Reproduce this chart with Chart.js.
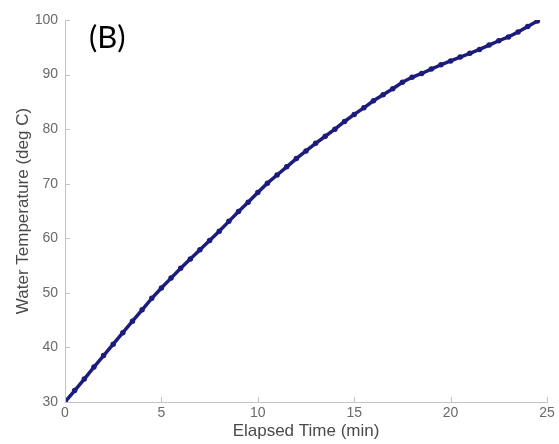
<!DOCTYPE html>
<html>
<head>
<meta charset="utf-8">
<script src="https://cdn.jsdelivr.net/npm/chart.js@4/dist/chart.umd.min.js"></script>
<style>
  body { margin: 0; background: #fff; }
  #wrap { position: relative; width: 559px; height: 444px; }
  #panel { position: absolute; left: 89px; top: 17px; font: 31px Lato, "Open Sans", sans-serif; color: #000; }
</style>
</head>
<body>
<div id="wrap">
  <canvas id="tempChart" width="559" height="444"></canvas>
  <div id="panel">(B)</div>
</div>
<script>
// every half minute
const elapsedMin = [0, 0.5, 1, 1.5, 2, 2.5, 3, 3.5, 4, 4.5, 5, 5.5, 6, 6.5, 7, 7.5, 8, 8.5, 9, 9.5,
  10, 10.5, 11, 11.5, 12, 12.5, 13, 13.5, 14, 14.5, 15, 15.5, 16, 16.5, 17, 17.5, 18, 18.5, 19, 19.5,
  20, 20.5, 21, 21.5, 22, 22.5, 23, 23.5, 24, 24.5];
const waterTempC = [30.0, 32.1, 34.2, 36.4, 38.5, 40.6, 42.7, 44.8, 46.9, 49.0, 50.9, 52.7, 54.5, 56.2, 57.9, 59.6, 61.3, 63.1, 64.9, 66.6,
  68.4, 70.1, 71.6, 73.1, 74.6, 76.0, 77.4, 78.7, 80.0, 81.4, 82.7, 83.9, 85.2, 86.3, 87.4, 88.6, 89.5, 90.2, 91.0, 91.8,
  92.5, 93.2, 93.9, 94.6, 95.4, 96.2, 96.9, 97.8, 98.8, 99.8];
const xTicks = [0, 5, 10, 15, 20, 25];
const yTicks = [30, 40, 50, 60, 70, 80, 90, 100];

const points = elapsedMin.map((t, i) => ({ x: t, y: waterTempC[i] }));

// matlab style ticks pointing into the plot
const innerTicks = {
  id: "innerTicks",
  afterDraw(chart) {
    const ctx = chart.ctx;
    const xs = chart.scales.x, ys = chart.scales.y;
    ctx.save();
    ctx.strokeStyle = "#c4c4c4";
    ctx.lineWidth = 1;
    ctx.beginPath();
    xTicks.forEach(v => {
      const px = Math.round(xs.getPixelForValue(v)) + 0.5;
      ctx.moveTo(px, ys.bottom);
      ctx.lineTo(px, ys.bottom - 5);
    });
    yTicks.forEach(v => {
      const py = Math.round(ys.getPixelForValue(v)) + 0.5;
      ctx.moveTo(xs.left, py);
      ctx.lineTo(xs.left + 5, py);
    });
    ctx.stroke();
    ctx.restore();
  }
};

new Chart(document.getElementById("tempChart"), {
  type: "scatter",
  data: {
    datasets: [
      {
        data: points,
        showLine: true,
        borderColor: "#1c1c7e",
        backgroundColor: "#1c1c7e",
        borderWidth: 3.5,
        pointRadius: 1,
        tension: 0
      }
    ]
  },
  options: {
    responsive: false,
    animation: false,
    layout: { padding: { top: 20, right: 12, left: 0, bottom: 0 } },
    plugins: { legend: { display: false }, tooltip: { enabled: false } },
    scales: {
      x: {
        type: "linear",
        min: 0,
        max: 25,
        afterBuildTicks: s => { s.ticks = xTicks.map(v => ({ value: v })); },
        afterFit: s => { s.height = 42; },
        grid: { display: false, drawTicks: false },
        border: { display: true, color: "#c4c4c4", width: 1 },
        ticks: { padding: 3, color: "#6a6a6a", font: { family: "Liberation Sans", size: 14 } },
        title: {
          display: true,
          text: "Elapsed Time (min)",
          color: "#4a4a4a",
          font: { family: "Liberation Sans", size: 17 },
          padding: { top: 0, bottom: 2 }
        }
      },
      y: {
        min: 30,
        max: 100,
        afterBuildTicks: s => { s.ticks = yTicks.map(v => ({ value: v })); },
        afterFit: s => { s.width = 65; },
        grid: { display: false, drawTicks: false },
        border: { display: true, color: "#c4c4c4", width: 1 },
        ticks: { padding: 7, color: "#6a6a6a", font: { family: "Liberation Sans", size: 14 } },
        title: {
          display: true,
          text: "Water Temperature (deg C)",
          color: "#4a4a4a",
          font: { family: "Liberation Sans", size: 17 },
          padding: { top: 13, bottom: 0 }
        }
      }
    }
  },
  plugins: [innerTicks]
});
</script>
</body>
</html>
